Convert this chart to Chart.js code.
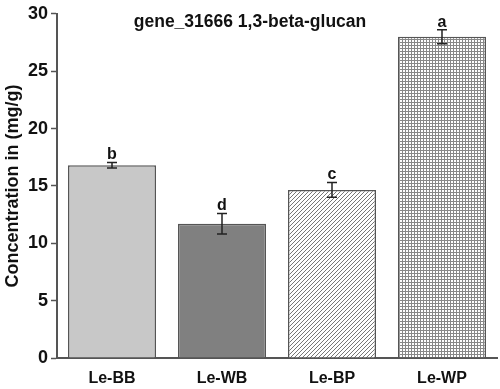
<!DOCTYPE html>
<html>
<head>
<meta charset="utf-8">
<script src="https://cdn.jsdelivr.net/npm/chart.js@4.4.1/dist/chart.umd.min.js"></script>
<style>
  html, body { margin: 0; padding: 0; background: #fff; }
  #wrap { width: 500px; height: 389px; }
</style>
</head>
<body>
<div id="wrap"><canvas id="chart" width="500" height="389"></canvas></div>
<script>
// data
const categories = ['Le-BB', 'Le-WB', 'Le-BP', 'Le-WP'];
const concentration = [16.8, 11.7, 14.65, 28.0];
const errors = [0.25, 0.9, 0.65, 0.6];
const letters = ['b', 'd', 'c', 'a'];
const yTicks = [0, 5, 10, 15, 20, 25, 30];

const FONT = "'Liberation Sans', Arial, sans-serif";
const AXIS = '#555555';

// fill patterns
const makeHatch = () => {
  const c = document.createElement('canvas');
  c.width = 4; c.height = 4;
  const g = c.getContext('2d');
  g.fillStyle = '#fff';
  g.fillRect(0, 0, 4, 4);
  g.strokeStyle = '#777';
  g.lineWidth = 1;
  g.beginPath();
  g.moveTo(-1, 5); g.lineTo(5, -1);
  g.moveTo(-1, 1); g.lineTo(1, -1);
  g.moveTo(3, 5); g.lineTo(5, 3);
  g.stroke();
  return g.createPattern(c, 'repeat');
};
const makeGrid = () => {
  const c = document.createElement('canvas');
  c.width = 3; c.height = 3;
  const g = c.getContext('2d');
  g.fillStyle = '#fff';
  g.fillRect(0, 0, 3, 3);
  g.fillStyle = '#888';
  g.fillRect(0, 0, 3, 1);
  g.fillRect(0, 0, 1, 3);
  return g.createPattern(c, 'repeat');
};
const fills = ['#c8c8c8', '#808080', makeHatch(), makeGrid()];

// error bars, letters and title
const extras = {
  id: 'extras',
  afterDatasetsDraw(chart) {
    const { ctx, scales: { x, y } } = chart;
    const meta = chart.getDatasetMeta(0);
    ctx.save();
    ctx.strokeStyle = '#222';
    ctx.lineWidth = 1.5;
    meta.data.forEach((bar, i) => {
      const cx = bar.x;
      const top = y.getPixelForValue(concentration[i] + errors[i]);
      const bot = y.getPixelForValue(concentration[i] - errors[i]);
      ctx.beginPath();
      ctx.moveTo(cx, top); ctx.lineTo(cx, bot);
      ctx.moveTo(cx - 5, top); ctx.lineTo(cx + 5, top);
      ctx.moveTo(cx - 5, bot); ctx.lineTo(cx + 5, bot);
      ctx.stroke();
      ctx.fillStyle = '#111';
      ctx.font = 'bold 16px ' + FONT;
      ctx.textAlign = 'center';
      ctx.textBaseline = 'alphabetic';
      ctx.fillText(letters[i], cx, top - 3);
    });
    ctx.font = 'bold 17.5px ' + FONT;
    ctx.fillStyle = '#111';
    ctx.textAlign = 'center';
    ctx.textBaseline = 'middle';
    ctx.fillText('gene_31666 1,3-beta-glucan', 250, 22);
    ctx.restore();
  }
};

new Chart(document.getElementById('chart'), {
  type: 'bar',
  data: {
    labels: categories,
    datasets: [{
      data: concentration,
      backgroundColor: fills,
      borderColor: AXIS,
      borderWidth: 1.5,
      categoryPercentage: 0.8,
      barPercentage: 1.0
    }]
  },
  options: {
    responsive: false,
    animation: false,
    devicePixelRatio: 1,
    layout: { padding: { top: 12, right: 3, left: 2, bottom: 0 } },
    plugins: { legend: { display: false }, tooltip: { enabled: false } },
    scales: {
      x: {
        afterFit: (s) => { s.height = 31; },
        grid: { display: false, drawTicks: false },
        border: { color: AXIS, width: 2 },
        ticks: { color: '#111', padding: 11, font: { family: FONT, size: 16, weight: 'bold' } }
      },
      y: {
        min: 0,
        max: 30,
        afterFit: (s) => { s.width = 55; },
        afterBuildTicks: (s) => { s.ticks = yTicks.map((v) => ({ value: v })); },
        grid: { drawOnChartArea: false, drawTicks: true, tickLength: 6, color: AXIS, tickWidth: 1.5 },
        border: { color: AXIS, width: 2 },
        ticks: { color: '#111', padding: 3, font: { family: FONT, size: 18, weight: 'bold' } },
        title: {
          display: true,
          text: 'Concentration in (mg/g)',
          color: '#111',
          padding: 0,
          font: { family: FONT, size: 18, weight: 'bold' }
        }
      }
    }
  },
  plugins: [extras]
});
</script>
</body>
</html>
